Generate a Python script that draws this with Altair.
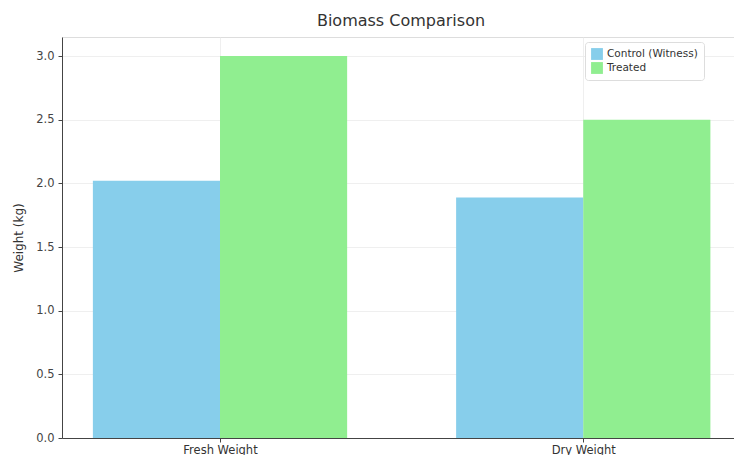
import altair as alt
import pandas as pd

categories = ["Fresh Weight", "Dry Weight"]
series = ["Control (Witness)", "Treated"]
control_values = [2.02, 1.89]
treated_values = [3.0, 2.5]
colors = ["#87CEEB", "#90EE90"]
bar_width = 0.35

rows = []
for i, cat in enumerate(categories):
    for s, vals, off in [(series[0], control_values, -bar_width), (series[1], treated_values, 0.0)]:
        rows.append({"category": cat, "pos": i, "series": s, "value": vals[i], "base": 0.0,
                     "x0": i + off, "x1": i + off + bar_width})
df = pd.DataFrame(rows)

label_expr = "datum.value == 0 ? '%s' : (datum.value == 1 ? '%s' : '')" % (categories[0], categories[1])

bars = alt.Chart(df).mark_bar(opacity=1).encode(
    x=alt.X("x0:Q", scale=alt.Scale(domain=[-0.435, 1.415], nice=False, zero=False),
            axis=alt.Axis(values=[0, 1], labelExpr=label_expr, title=None,
                          grid=True, gridColor="#ebebeb", gridWidth=0.8,
                          domainColor="#444444", tickColor="#444444", tickSize=4,
                          labelFont="DejaVu Sans", labelFontSize=11.5, labelColor="#333333",
                          labelPadding=2)),
    x2="x1:Q",
    y=alt.Y("value:Q", scale=alt.Scale(domain=[0, 3.15], nice=False),
            axis=alt.Axis(values=[0, 0.5, 1.0, 1.5, 2.0, 2.5, 3.0], format=".1f",
                          title="Weight (kg)", titleFont="DejaVu Sans", titleFontSize=12,
                          titleFontWeight="normal", titleColor="#333333", titlePadding=10,
                          grid=True, gridColor="#ebebeb", gridWidth=0.8,
                          domainColor="#444444", tickColor="#444444", tickSize=4,
                          labelFont="DejaVu Sans", labelFontSize=11.5, labelColor="#444444",
                          labelPadding=4)),
    y2="base:Q",
    color=alt.Color("series:N", scale=alt.Scale(domain=series, range=colors),
                    legend=alt.Legend(title=None, orient="none", legendX=523, legendY=5,
                                      symbolType="square", symbolSize=140, symbolStrokeWidth=0,
                                      labelFont="DejaVu Sans", labelFontSize=10.5,
                                      labelColor="#333333", rowPadding=2,
                                      fillColor="white", strokeColor="#dddddd",
                                      padding=6, cornerRadius=3)),
)

chart = bars.properties(
    width=672, height=401,
    title=alt.Title("Biomass Comparison", font="DejaVu Sans", fontSize=16,
                    fontWeight="normal", color="#333333", offset=8, dx=3),
    autosize=alt.AutoSizeParams(type="none"),
    padding={"left": 62, "top": 37, "right": 0, "bottom": 17},
).configure_view(stroke=None).configure(background="white")

chart.save("out.html", embed_options={"renderer": "svg", "actions": False})
